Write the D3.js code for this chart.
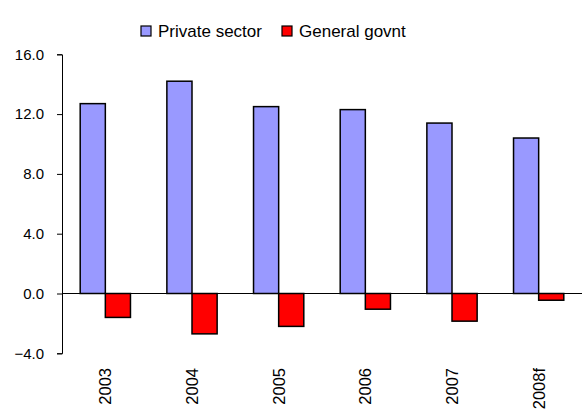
<!DOCTYPE html>
<html>
<head>
<meta charset="utf-8">
<script src="https://cdn.jsdelivr.net/npm/d3@7/dist/d3.min.js"></script>
<style>
  html, body { margin: 0; padding: 0; background: #fff; }
  svg { display: block; font-family: "Liberation Sans", Arial, sans-serif; }
</style>
</head>
<body>
<svg id="chart" width="588" height="414"></svg>
<script>
// Financial balances by sector, % of GDP
const years = ["2003", "2004", "2005", "2006", "2007", "2008f"];
const privateSector = [12.7, 14.2, 12.5, 12.3, 11.4, 10.4];
const generalGovnt = [-1.6, -2.7, -2.2, -1.05, -1.85, -0.45];
const seriesNames = ["Private sector", "General govnt"];
const seriesColors = ["#9999FF", "#FF0000"];
const yTicks = [-4, 0, 4, 8, 12, 16];

const svg = d3.select("#chart");
const margin = { left: 62, right: 6, top: 54.3, bottom: 60.7 };
const W = 588, H = 414;

const x = d3.scaleBand()
  .domain(years)
  .range([margin.left, W - margin.right])
  .paddingInner(0.42)
  .paddingOuter(0.21);

const x1 = d3.scaleBand()
  .domain(seriesNames)
  .range([0, x.bandwidth()]);

const y = d3.scaleLinear()
  .domain([-4, 16])
  .range([H - margin.bottom, margin.top]);

// y axis
const yAxis = svg.append("g")
  .attr("transform", `translate(${margin.left},0)`)
  .call(d3.axisLeft(y).tickValues(yTicks).tickFormat(d3.format(".1f")).tickSizeOuter(0).tickSize(5).tickPadding(13));
yAxis.select(".domain").attr("stroke", "#000").attr("stroke-width", 1);
yAxis.selectAll(".tick line").attr("stroke", "#000");
yAxis.selectAll(".tick text")
  .attr("fill", "#000")
  .style("font-size", "15px")
  .style("font-family", "'Liberation Sans', Arial, sans-serif");

// bars
const rows = years.map((yr, i) => ({ year: yr, values: [privateSector[i], generalGovnt[i]] }));
const groups = svg.append("g").selectAll("g")
  .data(rows)
  .join("g")
  .attr("transform", d => `translate(${x(d.year)},0)`);

groups.selectAll("rect")
  .data(d => d.values.map((v, k) => ({ name: seriesNames[k], value: v, color: seriesColors[k] })))
  .join("rect")
  .attr("x", d => x1(d.name))
  .attr("width", x1.bandwidth())
  .attr("y", d => y(Math.max(0, d.value)))
  .attr("height", d => Math.abs(y(d.value) - y(0)))
  .attr("fill", d => d.color)
  .attr("stroke", "#000")
  .attr("stroke-width", 1.5);

// zero line
svg.append("line")
  .attr("x1", margin.left).attr("x2", W - margin.right)
  .attr("y1", y(0)).attr("y2", y(0))
  .attr("stroke", "#000").attr("stroke-width", 1);

// category labels, rotated
svg.append("g").selectAll("text")
  .data(years)
  .join("text")
  .attr("transform", d => `translate(${x(d) + x.bandwidth() / 2 + 6},368) rotate(-90)`)
  .attr("text-anchor", "end")
  .style("font-size", "16.5px")
  .attr("fill", "#000")
  .text(d => d);

// legend
const legend = svg.append("g");
const legendX = [141, 282];
seriesNames.forEach((name, k) => {
  legend.append("rect")
    .attr("x", legendX[k]).attr("y", 26)
    .attr("width", 10).attr("height", 10)
    .attr("fill", seriesColors[k])
    .attr("stroke", "#000").attr("stroke-width", 1.2);
  legend.append("text")
    .attr("x", legendX[k] + 17).attr("y", 37)
    .style("font-size", "17px")
    .attr("fill", "#000")
    .text(name);
});
</script>
</body>
</html>
